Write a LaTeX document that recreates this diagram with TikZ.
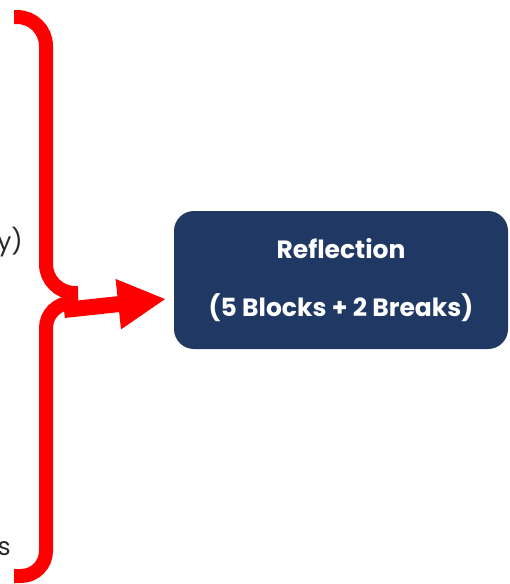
\documentclass[tikz,border=0pt]{standalone}
\usepackage{fontspec}
\setmainfont{Poppins}
\usepackage{xcolor}
\usetikzlibrary{arrows.meta}
\definecolor{navy}{RGB}{31,56,100}
\definecolor{textgray}{RGB}{40,40,40}
\tikzset{
    brace/.style={draw=red, line width=14pt, line cap=butt},
    bigarrow/.style={draw=red, line width=16pt, -{Triangle[length=48pt, width=47pt]}},
    blockbox/.style={fill=navy, rounded corners=20pt, minimum width=334pt, minimum height=138pt, text=white, align=center, font=\fontsize{25}{29}\selectfont\bfseries},
    cuttext/.style={text=textgray, font=\fontsize{25}{29}\selectfont, inner sep=0pt}
}
\begin{document}
\begin{tikzpicture}[x=1pt, y=-1pt]
                \useasboundingbox (0,0) rectangle (510,584);

                \node[blockbox] (R) at (341, 280) {Reflection\\[29pt](5 Blocks + 2 Breaks)};
                \node[cuttext, anchor=east] (T1) at (23, 242) {y)};
                \node[cuttext, anchor=east] (T2) at (11, 549) {s};

                \draw[brace, rounded corners=29pt] (14,17) -- (46,17) -- (46,293) -- (78,293);
                \draw[brace, rounded corners=25pt] (78,303) -- (46,303) -- (46,576) -- (14,576);

                \coordinate (S) at (64, 310);
                \coordinate (E) at (166, 299);
                \draw[bigarrow] (S) -- (E);
            \end{tikzpicture}
\end{document}
